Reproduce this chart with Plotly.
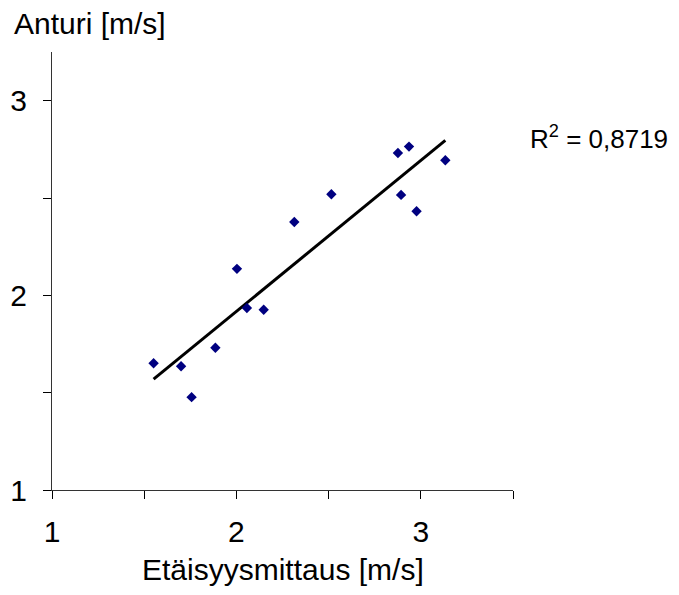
import numpy as np
import plotly.graph_objects as go

# Data
etaisyys = [1.551, 1.700, 1.757, 1.886, 2.003, 2.057, 2.148, 2.314, 2.515,
            2.876, 2.936, 2.893, 2.977, 3.133]
anturi = [1.651, 1.636, 1.477, 1.731, 2.136, 1.935, 1.926, 2.377, 2.519,
          2.731, 2.764, 2.516, 2.432, 2.694]
tick_vals = [1, 1.5, 2, 2.5, 3, 3.5]
x_tick_text = ["1", "", "2", "", "3", ""]
y_tick_vals = [1, 1.5, 2, 2.5, 3]
y_tick_text = ["1", "", "2", "", "3"]
r2_label = "R<sup>2</sup> = 0,8719"

x = np.array(etaisyys)
y = np.array(anturi)
slope, intercept = np.polyfit(x, y, 1)
xl = np.array([x.min(), x.max()])
yl = slope * xl + intercept

FONT = "Liberation Sans, Arial, sans-serif"
FS = 30

# page has an 8px body margin; figure placed at (8, 8)
W, H = 663, 579
L, T = 44, 44
PW = 461
PH = 438
R = W - L - PW
B = H - T - PH

fig = go.Figure()
fig.add_trace(go.Scatter(x=xl, y=yl, mode="lines",
                         line=dict(color="black", width=3), showlegend=False,
                         hoverinfo="skip"))
fig.add_trace(go.Scatter(x=etaisyys, y=anturi, mode="markers",
                         marker=dict(symbol="diamond", size=8, color="#000080"),
                         showlegend=False))

fig.update_layout(
    width=W, height=H,
    margin=dict(l=L, r=R, t=T, b=B, autoexpand=False),
    plot_bgcolor="white", paper_bgcolor="white",
    font=dict(family=FONT, size=FS, color="black"),
    xaxis=dict(range=[1, 3.5], tickvals=tick_vals, ticktext=x_tick_text,
               ticks="outside", ticklen=8, tickcolor="black", tickwidth=1,
               showline=True, linecolor="#333", linewidth=1, automargin=False,
               showgrid=False, zeroline=False, ticklabelstandoff=7,
               tickfont=dict(size=FS)),
    yaxis=dict(range=[1, 3.25], tickvals=y_tick_vals, ticktext=y_tick_text,
               ticks="outside", ticklen=8, tickcolor="black", tickwidth=1,
               showline=True, linecolor="#333", linewidth=1, automargin=False,
               showgrid=False, zeroline=False, ticklabelstandoff=10,
               tickfont=dict(size=FS)),
    annotations=[
        dict(text="Anturi [m/s]", xref="paper", yref="paper",
             x=-L / PW, y=1 + (T - 16) / PH,
             xanchor="left", yanchor="middle", showarrow=False, xshift=4,
             font=dict(size=FS)),
        dict(text="Etäisyysmittaus [m/s]", xref="paper", yref="paper", x=0.5, y=0,
             yshift=-79, xanchor="center", yanchor="middle", showarrow=False,
             font=dict(size=FS)),
        dict(text=r2_label, xref="paper", yref="paper", x=1,
             y=1 - (129 - T) / PH,
             xshift=15, xanchor="left", yanchor="middle", showarrow=False,
             font=dict(size=26)),
    ],
)

fig.write_html("out.html")
